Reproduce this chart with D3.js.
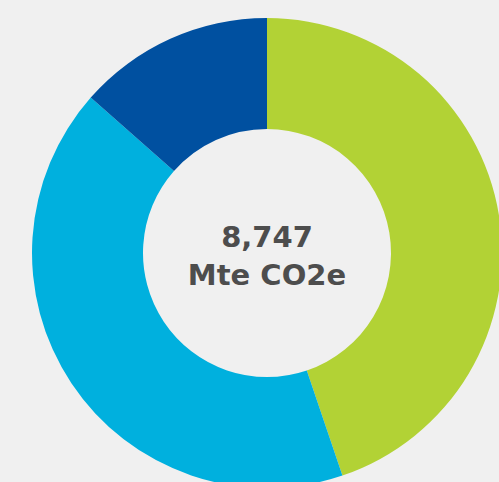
<!DOCTYPE html>
<html>
<head>
<meta charset="utf-8">
<script src="https://cdn.jsdelivr.net/npm/d3@7"></script>
<style>
  body { margin: 0; background: #f0f0f0; overflow: hidden; }
</style>
</head>
<body>
<div id="chart"></div>
<script>
// Emissions split (share of total, %)
const categories = ["Green", "Light blue", "Dark blue"];
const shares = [44.8, 41.7, 13.5];
const colors = ["#b2d235", "#00b0de", "#0050a0"];
const centerLines = ["8,747", "Mte CO2e"];

function createDonut(container) {
    const width = 499;
    const height = 482;
    const cx = 267, cy = 253;

    d3.select(container).html("");

    const svg = d3.select(container)
        .append("svg")
        .attr("width", width)
        .attr("height", height);

    svg.append("rect")
        .attr("width", width)
        .attr("height", height)
        .attr("fill", "#f0f0f0");

    const g = svg.append("g")
        .attr("transform", `translate(${cx},${cy})`);

    const data = categories.map((c, i) => ({ category: c, value: shares[i] }));

    const color = d3.scaleOrdinal()
        .domain(categories)
        .range(colors);

    const pie = d3.pie()
        .sort(null)
        .value(d => d.value);

    const arc = d3.arc()
        .innerRadius(124)
        .outerRadius(235);

    g.selectAll("path")
        .data(pie(data))
        .enter()
        .append("path")
        .attr("d", arc)
        .attr("fill", d => color(d.data.category));

    // Center label
    g.selectAll("text.center")
        .data(centerLines)
        .enter()
        .append("text")
        .attr("class", "center")
        .attr("text-anchor", "middle")
        .attr("y", (d, i) => i === 0 ? -6 : 32)
        .style("font-family", "'DejaVu Sans', sans-serif")
        .style("font-weight", "bold")
        .style("font-size", "29px")
        .style("fill", "#4d4d4d")
        .text(d => d);
}

createDonut("#chart");
</script>
</body>
</html>
